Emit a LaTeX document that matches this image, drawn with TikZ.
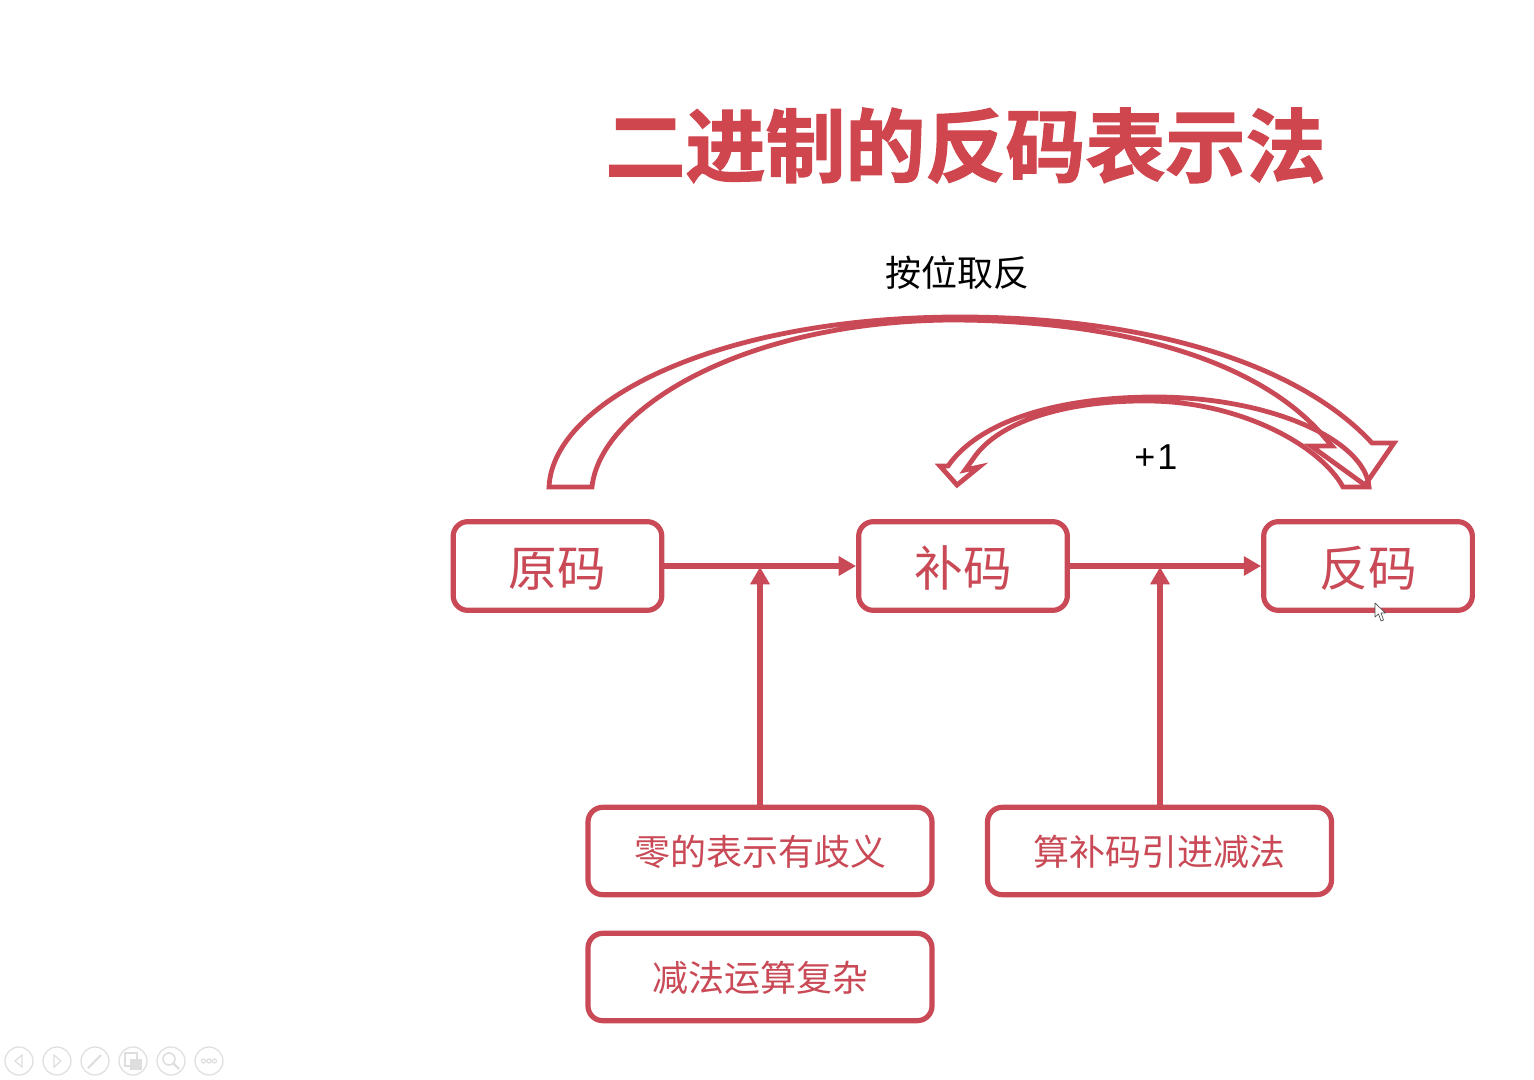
\documentclass[tikz,border=0pt]{standalone}
\usepackage{fontspec}
\setmainfont{Noto Sans CJK SC}
\newfontfamily\latinf{Liberation Sans}
\newfontfamily\titlef[BoldFont={Noto Sans CJK SC Bold},FakeBold=1.6]{Noto Sans CJK SC Bold}
\usetikzlibrary{arrows.meta}
\definecolor{rd}{RGB}{201,74,86}
\definecolor{ttl}{RGB}{208,70,78}
\definecolor{nav}{RGB}{222,222,222}
\newcommand{\toptext}[1]{\raisebox{-15pt}[0pt][0pt]{#1}}
\newcommand{\lowtext}[1]{\raisebox{-10.7pt}[0pt][0pt]{#1}}
\tikzset{
  px/.style={x=0.75pt,y=-0.75pt},
  rbox/.style={draw=rd,line width=3.9pt,rounded corners=11pt,fill=white,text=rd,inner sep=0pt,align=center},
  topbox/.style={rbox,minimum width=156.5pt,minimum height=66.5pt,font=\fontsize{36.5pt}{36.5pt}\selectfont},
  lowbox/.style={rbox,minimum width=258pt,minimum height=65.5pt,font=\fontsize{27pt}{27pt}\selectfont},
  link/.style={draw=rd,line width=3.9pt,-{Triangle[length=13pt,width=14pt]}},
  curved/.style={draw=rd,line width=3.6pt,line join=miter,fill=none},
  blk/.style={text=black,font=\fontsize{27pt}{27pt}\selectfont,inner sep=0pt},
  navc/.style={draw=nav,line width=0.9pt,fill=none},
}
\begin{document}
\begin{tikzpicture}[px]
\useasboundingbox (0,0) rectangle (1534,1080);
\fill[white] (0,0) rectangle (1534,1080);
\node[text=ttl,inner sep=0pt,font=\titlef\fontsize{60pt}{60pt}\selectfont] (title) at (965.5,145.5) {二进制的反码表示法};
\node[blk] (anwei) at (957,273) {按位取反};
\node[blk,font=\latinf\fontsize{27pt}{27pt}\selectfont] (plus) at (1156,457) {+\kern1.5pt 1};
% big curved arrow
\draw[curved] (549,487) .. controls (553,400) and (720,317) .. (960,317)
  .. controls (1150,317) and (1300,365) .. (1372,443)
  -- (1394,443) -- (1365,485) -- (1311,446) -- (1332,446) -- (1325,438)
  .. controls (1260,360) and (1120,320) .. (950,320)
  .. controls (740,322) and (600,410) .. (592,487) -- cycle;
% small curved arrow
\draw[curved] (1369,487) .. controls (1365,440) and (1270,397) .. (1155,397)
  .. controls (1060,397) and (980,420) .. (948,466)
  -- (940,466) -- (957,485) -- (979,467) -- (965,470) -- (973,459)
  .. controls (1000,418) and (1075,400) .. (1150,401)
  .. controls (1240,402) and (1320,445) .. (1343,487) -- cycle;
% boxes
\node[topbox] (yuan) at (557.5,566) {\toptext{原码}};
\node[topbox] (bu) at (963,566) {\toptext{补码}};
\node[topbox] (fan) at (1368,566) {\toptext{反码}};
\node[lowbox] (ling) at (760,851) {\lowtext{零的表示有歧义}};
\node[lowbox] (jian) at (760,977) {\lowtext{减法运算复杂}};
\node[lowbox] (suan) at (1159.5,851) {\lowtext{算补码引进减法}};
% connectors
\draw[link] (yuan) -- (bu);
\draw[link] (bu) -- (fan);
\coordinate (j1) at (760,567);
\coordinate (j2) at (1160,567);
\draw[link] (ling.north) -- (j1);
\draw[link] (suan.north -| j2) -- (j2);
% cursor
\draw[fill=white,draw=black!70,line width=0.5pt,line join=round]
  (1375,603) -- (1375,617) -- (1378.5,614) -- (1381,621) -- (1383.5,620) -- (1381,613) -- (1385.5,613) -- cycle;
% slide-show controls
\foreach \cx in {19,57,95,133,171,209} \draw[navc] (\cx,1061) circle (14);
\draw[navc] (22,1055) -- (15,1061) -- (22,1067) -- cycle;
\draw[navc] (54,1055) -- (61,1061) -- (54,1067) -- cycle;
\draw[navc,line width=1.6pt] (88,1068) -- (101,1055);
\draw[navc] (125,1053) rectangle (137,1066);
\fill[nav] (130,1059) rectangle (142,1070);
\draw[navc,line width=1.2pt] (169,1059) circle (6);
\draw[navc,line width=1.8pt] (173.5,1063.5) -- (179,1069);
\foreach \dx in {203.5,209,214.5} \draw[navc] (\dx,1061) circle (2);
\end{tikzpicture}
\end{document}
